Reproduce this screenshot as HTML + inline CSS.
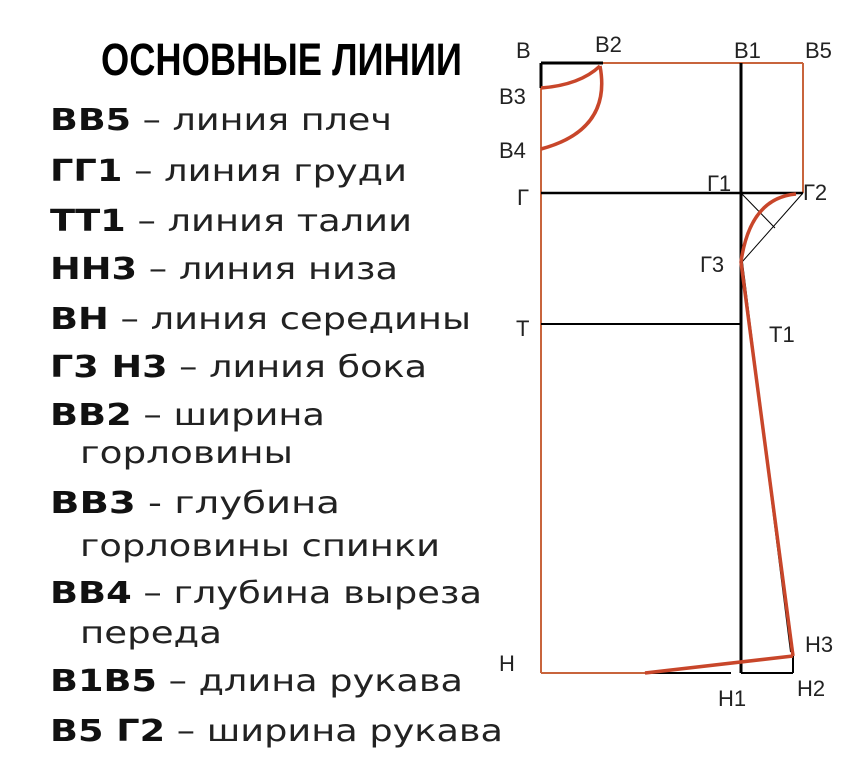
<!DOCTYPE html>
<html><head><meta charset="utf-8"><style>
html,body{margin:0;padding:0;background:#fff;width:854px;height:758px;overflow:hidden}
svg{display:block}
.t{font-family:"DejaVu Sans","Liberation Sans",sans-serif;font-size:30px;fill:#222}
.b{font-weight:bold;fill:#111}
.l{font-family:"Liberation Sans","DejaVu Sans",sans-serif;font-size:22px;fill:#222}
</style></head><body>
<svg width="854" height="758" viewBox="0 0 854 758" xmlns="http://www.w3.org/2000/svg">
<text x="101" y="75" textLength="361" lengthAdjust="spacingAndGlyphs" style="font-family:'Liberation Sans Narrow','Liberation Sans',sans-serif;font-weight:bold;font-size:45px;fill:#000">ОСНОВНЫЕ ЛИНИИ</text>
<g class="t">
<text x="50" y="130" textLength="342" lengthAdjust="spacingAndGlyphs"><tspan class="b">ВВ5</tspan> – линия плеч</text>
<text x="50" y="181" textLength="357" lengthAdjust="spacingAndGlyphs"><tspan class="b">ГГ1</tspan> – линия груди</text>
<text x="50" y="231" textLength="362" lengthAdjust="spacingAndGlyphs"><tspan class="b">ТТ1</tspan> – линия талии</text>
<text x="50" y="279" textLength="348" lengthAdjust="spacingAndGlyphs"><tspan class="b">НН3</tspan> – линия низа</text>
<text x="50" y="329" textLength="421" lengthAdjust="spacingAndGlyphs"><tspan class="b">ВН</tspan> – линия середины</text>
<text x="50" y="377" textLength="377" lengthAdjust="spacingAndGlyphs"><tspan class="b">Г3 Н3</tspan> – линия бока</text>
<text x="50" y="425" textLength="275" lengthAdjust="spacingAndGlyphs"><tspan class="b">ВВ2</tspan> – ширина</text>
<text x="80" y="463" textLength="213" lengthAdjust="spacingAndGlyphs">горловины</text>
<text x="50" y="513" textLength="290" lengthAdjust="spacingAndGlyphs"><tspan class="b">ВВ3</tspan>  - глубина</text>
<text x="80" y="556" textLength="360" lengthAdjust="spacingAndGlyphs">горловины спинки</text>
<text x="50" y="603" textLength="432" lengthAdjust="spacingAndGlyphs"><tspan class="b">ВВ4</tspan> – глубина выреза</text>
<text x="80" y="643" textLength="142" lengthAdjust="spacingAndGlyphs">переда</text>
<text x="50" y="691" textLength="413" lengthAdjust="spacingAndGlyphs"><tspan class="b">В1В5</tspan> – длина рукава</text>
<text x="50" y="741" textLength="453" lengthAdjust="spacingAndGlyphs"><tspan class="b">В5 Г2</tspan> – ширина рукава</text>
</g>
<g fill="none">
<line x1="541" y1="63" x2="803" y2="63" stroke="#c8643c" stroke-width="2"/>
<line x1="541" y1="63" x2="541" y2="673" stroke="#c8643c" stroke-width="2"/>
<line x1="803" y1="63" x2="803" y2="193" stroke="#c8643c" stroke-width="2"/>
<line x1="541" y1="673" x2="645" y2="673" stroke="#c8643c" stroke-width="2"/>
<line x1="541" y1="63" x2="603" y2="63" stroke="#000" stroke-width="3"/>
<line x1="541" y1="63" x2="541" y2="88" stroke="#000" stroke-width="3"/>
<line x1="741" y1="63" x2="741" y2="673" stroke="#000" stroke-width="3"/>
<line x1="541" y1="193" x2="803" y2="193" stroke="#000" stroke-width="2.5"/>
<line x1="541" y1="324" x2="741" y2="324" stroke="#000" stroke-width="2"/>
<line x1="645" y1="673" x2="731" y2="673" stroke="#000" stroke-width="2"/>
<line x1="741" y1="673" x2="793" y2="673" stroke="#000" stroke-width="2"/>
<line x1="793" y1="656" x2="793" y2="673" stroke="#000" stroke-width="2"/>
<line x1="741" y1="193" x2="775" y2="228" stroke="#000" stroke-width="1"/>
<line x1="803" y1="193" x2="742" y2="262" stroke="#000" stroke-width="1"/>
<line x1="742" y1="262" x2="791" y2="652" stroke="#000" stroke-width="2"/>
<path d="M541 88 Q580 85 600 66" stroke="#c8462a" stroke-width="3.5"/>
<path d="M600 66 Q612 130 541 149" stroke="#c8462a" stroke-width="3.5"/>
<path d="M796 194 Q750 198 741 262" stroke="#c8462a" stroke-width="3.5"/>
<path d="M741 262 L793 656" stroke="#c8462a" stroke-width="3.5"/>
<path d="M645 673 L793 656" stroke="#c8462a" stroke-width="3.5"/>
</g>
<g class="l">
<text x="516" y="58">В</text>
<text x="595" y="52">В2</text>
<text x="734" y="58">В1</text>
<text x="805" y="58">В5</text>
<text x="499" y="104">В3</text>
<text x="499" y="158">В4</text>
<text x="517" y="205">Г</text>
<text x="707" y="191">Г1</text>
<text x="803" y="200">Г2</text>
<text x="700" y="272">Г3</text>
<text x="516" y="336">Т</text>
<text x="769" y="342">Т1</text>
<text x="499" y="671">Н</text>
<text x="805" y="652">Н3</text>
<text x="718" y="706">Н1</text>
<text x="797" y="696">Н2</text>
</g>
</svg>
</body></html>
